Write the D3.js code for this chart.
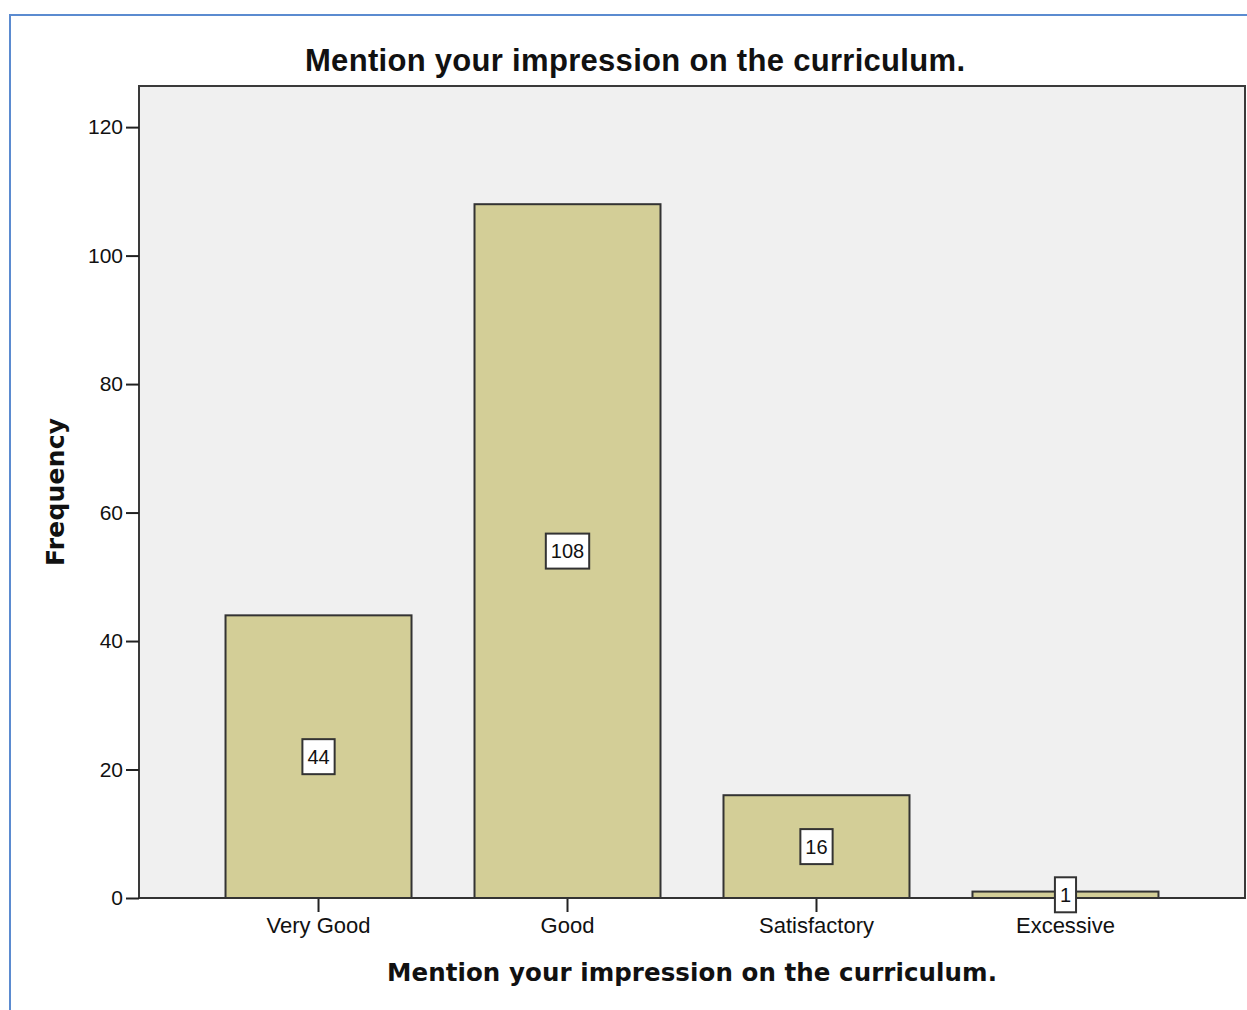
<!DOCTYPE html>
<html>
<head>
<meta charset="utf-8">
<title>Mention your impression on the curriculum.</title>
<script src="https://cdn.jsdelivr.net/npm/d3@7"></script>
<style>
  body { margin: 0; background: #fff; }
  svg text { font-family: "Liberation Sans", Arial, sans-serif; fill: #111; }
</style>
</head>
<body>
<svg id="svg"></svg>
<script>
// chart data
var categories = ["Very Good", "Good", "Satisfactory", "Excessive"];
var frequencies = [44, 108, 16, 1];
var yTickValues = [0, 20, 40, 60, 80, 100, 120];
var chartTitle = "Mention your impression on the curriculum.";
var xTitle = "Mention your impression on the curriculum.";
var yTitle = "Frequency";

var width = 1247, height = 1010;
var plot = {left: 139, right: 1245, top: 86, bottom: 898};

var svg = d3.select("#svg").attr("width", width).attr("height", height);

// blue frame round the output (only top and left edges show)
svg.append("path")
  .attr("d", "M10," + height + "V15H" + width)
  .attr("fill", "none")
  .attr("stroke", "#5b8bd0")
  .attr("stroke-width", 2);

var x = d3.scaleBand()
  .domain(categories)
  .range([plot.left, plot.right])
  .paddingInner(0.253)
  .paddingOuter(0.3475);

var y = d3.scaleLinear()
  .domain([0, 126.4])
  .range([plot.bottom, plot.top]);

// plot background
svg.append("rect")
  .attr("x", plot.left).attr("y", plot.top)
  .attr("width", plot.right - plot.left)
  .attr("height", plot.bottom - plot.top)
  .attr("fill", "#f0f0f0")
  .attr("stroke", "#3a3a3a")
  .attr("stroke-width", 2);

// bars
svg.append("g").selectAll("rect")
  .data(frequencies)
  .enter().append("rect")
  .attr("x", function(d, i) { return x(categories[i]); })
  .attr("y", function(d) { return y(d); })
  .attr("width", x.bandwidth())
  .attr("height", function(d) { return y(0) - y(d); })
  .attr("fill", "#d3ce97")
  .attr("stroke", "#333")
  .attr("stroke-width", 2);

// axes
var axisY = d3.axisLeft(y).tickValues(yTickValues).tickSize(13).tickPadding(3);
var gy = svg.append("g").attr("transform", "translate(" + plot.left + ",0)").call(axisY);
gy.select(".domain").remove();
gy.selectAll("line").attr("stroke", "#222").attr("stroke-width", 2);
gy.selectAll("text").attr("font-size", 21).attr("font-family", '"Liberation Sans", Arial, sans-serif').attr("fill", "#222");

var axisX = d3.axisBottom(x).tickSize(14).tickPadding(5);
var gx = svg.append("g").attr("transform", "translate(0," + plot.bottom + ")").call(axisX);
gx.select(".domain").remove();
gx.selectAll("line").attr("stroke", "#222").attr("stroke-width", 2);
gx.selectAll("text").attr("font-size", 22).attr("font-family", '"Liberation Sans", Arial, sans-serif').attr("fill", "#222");

// bottom axis line redrawn over bars
svg.append("line")
  .attr("x1", plot.left).attr("x2", plot.right)
  .attr("y1", plot.bottom).attr("y2", plot.bottom)
  .attr("stroke", "#333").attr("stroke-width", 2);

// value labels in white boxes
var labels = svg.append("g").selectAll("g")
  .data(frequencies)
  .enter().append("g")
  .attr("transform", function(d, i) {
    return "translate(" + (x(categories[i]) + x.bandwidth() / 2) + "," + y(d / 2) + ")";
  });
labels.append("rect");
labels.append("text")
  .attr("text-anchor", "middle")
  .attr("dy", "0.36em")
  .attr("font-size", 20)
  .text(function(d) { return d; });
labels.each(function() {
  var g = d3.select(this);
  var bb = g.select("text").node().getBBox();
  g.select("rect")
    .attr("x", -bb.width / 2 - 5).attr("y", -17.5)
    .attr("width", bb.width + 10).attr("height", 35)
    .attr("fill", "#fff").attr("stroke", "#333").attr("stroke-width", 2);
});

// titles
svg.append("text")
  .attr("x", 635).attr("y", 71)
  .attr("text-anchor", "middle")
  .attr("font-size", 31).attr("font-weight", "bold")
  .attr("textLength", 660).attr("lengthAdjust", "spacing")
  .text(chartTitle);

svg.append("text")
  .attr("x", (plot.left + plot.right) / 2).attr("y", 981)
  .attr("text-anchor", "middle")
  .attr("font-size", 24.5).attr("font-weight", "bold")
  .attr("textLength", 610).attr("lengthAdjust", "spacing")
  .style("font-family", '"DejaVu Sans", Verdana, sans-serif')
  .text(xTitle);

svg.append("text")
  .attr("transform", "translate(64," + ((plot.top + plot.bottom) / 2) + ")rotate(-90)")
  .attr("text-anchor", "middle")
  .attr("font-size", 25).attr("font-weight", "bold")
  .attr("textLength", 148).attr("lengthAdjust", "spacing")
  .style("font-family", '"DejaVu Sans", Verdana, sans-serif')
  .text(yTitle);
</script>
</body>
</html>
